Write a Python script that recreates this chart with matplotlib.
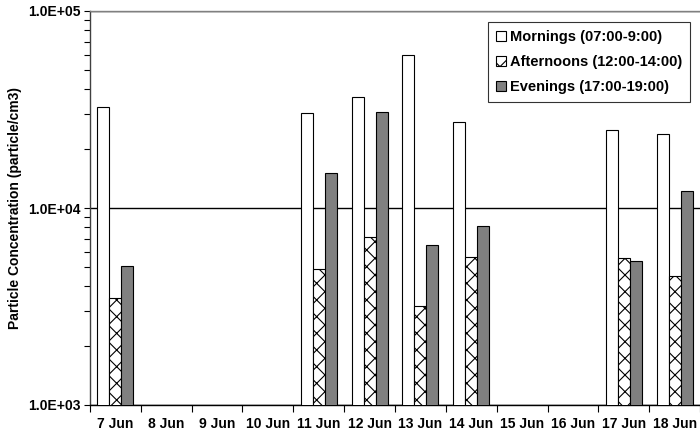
import numpy as np
import matplotlib
matplotlib.use("Agg")
import matplotlib.pyplot as plt
from matplotlib.ticker import LogLocator, FuncFormatter, NullFormatter

plt.rcParams['font.family'] = ['Liberation Sans', 'DejaVu Sans']
plt.rcParams['font.weight'] = 'bold'
plt.rcParams['hatch.linewidth'] = 0.8

days = ["7 Jun", "8 Jun", "9 Jun", "10 Jun", "11 Jun", "12 Jun",
        "13 Jun", "14 Jun", "15 Jun", "16 Jun", "17 Jun", "18 Jun"]
# nan = no measurement that day
mornings = [32700, np.nan, np.nan, np.nan, 30500, 36500, 59600, 27200, np.nan, np.nan, 24900, 23800]
afternoons = [3480, np.nan, np.nan, np.nan, 4900, 7140, 3190, 5660, np.nan, np.nan, 5570, 4500]
evenings = [5080, np.nan, np.nan, np.nan, 15000, 30800, 6490, 8110, np.nan, np.nan, 5380, 12200]

fig = plt.figure(figsize=(7.0, 4.33), dpi=100)
ax = fig.add_axes([90 / 700, 1 - 405 / 433, 610 / 700, 394 / 433])

x = np.arange(len(days))
w = 0.235
ax.bar(x - w, mornings, w, color="white", edgecolor="black", lw=0.8,
       label="Mornings (07:00-9:00)", zorder=3)
ax.bar(x, afternoons, w, color="white", edgecolor="black", hatch="xx", lw=0.8,
       label="Afternoons (12:00-14:00)", zorder=3)
ax.bar(x + w, evenings, w, color="#808080", edgecolor="black", lw=0.8,
       label="Evenings (17:00-19:00)", zorder=3)

ax.set_yscale("log")
ax.set_ylim(1e3, 1e5)
ax.set_xlim(-0.5, len(days) - 0.5)

ax.yaxis.set_major_locator(LogLocator(base=10, numticks=5))
ax.yaxis.set_minor_locator(LogLocator(base=10, subs=np.arange(2, 10), numticks=20))
ax.yaxis.set_major_formatter(FuncFormatter(lambda v, p: "%.1E" % v))
ax.yaxis.set_minor_formatter(NullFormatter())
ax.tick_params(axis="y", which="both", direction="out", length=4, width=0.8,
               labelsize=10, pad=3)

ax.set_xticks(np.arange(-0.5, len(days) + 0.5, 1))
ax.set_xticklabels([])
ax.set_xticks(x, minor=True)
ax.set_xticklabels(days, minor=True, fontsize=10, fontweight="bold")
ax.tick_params(axis="x", which="major", direction="out", length=5, width=0.8)
ax.tick_params(axis="x", which="minor", length=0, pad=9)

ax.grid(axis="y", which="major", color="black", lw=1.0, zorder=1)

ax.spines["right"].set_visible(False)
ax.spines["top"].set_color("#808080")
ax.spines["left"].set_color("#404040")
for s in ax.spines.values():
    s.set_linewidth(1.0)

ax.set_ylabel("Particle Concentration (particle/cm3)", fontsize=10,
              fontweight="bold", va="center")
ax.yaxis.set_label_coords(-75 / 610, 0.5)

leg = ax.legend(loc="upper right", bbox_to_anchor=(600 / 610, 1 - 11 / 394),
                fontsize=10.5, frameon=True, fancybox=False, edgecolor="black",
                handlelength=0.72, handleheight=0.72, handletextpad=0.25,
                labelspacing=0.75, borderpad=0.55, borderaxespad=0)
leg.get_frame().set_linewidth(0.8)
leg.set_zorder(5)

fig.savefig("out.png", dpi=100)
